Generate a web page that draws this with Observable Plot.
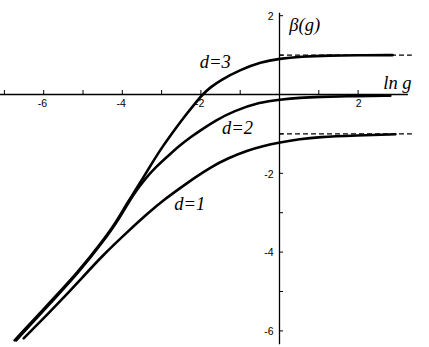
<!DOCTYPE html>
<html>
<head>
<meta charset="utf-8">
<script src="https://cdn.jsdelivr.net/npm/d3@7"></script>
<script src="https://cdn.jsdelivr.net/npm/@observablehq/plot@0.6"></script>
<style>
  html, body { margin: 0; padding: 0; background: #fff; }
  #chart { width: 429px; height: 347px; }
</style>
</head>
<body>
<div id="chart"></div>
<script>
// ---- data ----
const xTicks = [-7, -6, -5, -4, -3, -2, -1, 1, 2];
const xTickLabels = [-6, -4, -2, 2];
const yTicks = [2, 1, -1, -2, -3, -4, -5, -6];
const yTickLabels = [2, -2, -4, -6];

const d1X = [-6.51, -5.57, -5.14, -4.48, -3.84, -3.31, -2.95, -2.52, -2.14, -1.76, -1.32, -0.81, -0.43, 0, 0.53, 0.97, 1.98, 2.95];
const d1Y = [-6.19, -5.24, -4.78, -4.06, -3.46, -2.98, -2.68, -2.37, -2.10, -1.85, -1.62, -1.42, -1.31, -1.22, -1.13, -1.08, -1.04, -1.01];

const d2X = [-6.70, -5.77, -5.13, -4.47, -4.11, -3.83, -3.65, -3.40, -3.16, -2.77, -2.52, -2.26, -2.01, -1.63, -1.17, -0.48, 0, 0.53, 0.97, 1.98, 2.82];
const d2Y = [-6.24, -5.23, -4.54, -3.71, -3.20, -2.72, -2.44, -2.12, -1.85, -1.50, -1.28, -1.08, -0.91, -0.66, -0.42, -0.19, -0.13, -0.08, -0.06, -0.04, -0.03];

const d3X = [-6.74, -5.80, -5.16, -4.49, -4.13, -3.85, -3.67, -3.28, -3.03, -2.77, -2.39, -2.15, -1.96, -1.75, -1.50, -0.99, -0.48, 0, 0.53, 1.30, 1.98, 2.88];
const d3Y = [-6.24, -5.23, -4.55, -3.71, -3.20, -2.71, -2.44, -1.80, -1.40, -1.03, -0.52, -0.23, 0, 0.19, 0.365, 0.63, 0.82, 0.91, 0.96, 0.99, 0.995, 1.0];

const asymptotes = [1, -1];
const asymptoteExtent = [0, 3.38];
const xAxisExtent = [-7.1, 3.28];
const yAxisExtent = [-6.35, 2.06];

const curveLabels = ["d=3", "d=2", "d=1"];
const curveLabelX = [-2.03, -1.46, -2.68];
const curveLabelY = [0.66, -0.99, -2.92];

const axisTitles = ["β(g)", "ln g"];
const axisTitleX = [0.25, 3.36];
const axisTitleY = [1.6, 0.15];
const axisTitleAnchor = ["start", "end"];

// ---- build tables ----
const series = [
  ...d1X.map((x, i) => ({d: 1, x, y: d1Y[i]})),
  ...d2X.map((x, i) => ({d: 2, x, y: d2Y[i]})),
  ...d3X.map((x, i) => ({d: 3, x, y: d3Y[i]}))
];
const curveLabelData = curveLabels.map((t, i) => ({t, x: curveLabelX[i], y: curveLabelY[i]}));
const titleData = axisTitles.map((t, i) => ({t, x: axisTitleX[i], y: axisTitleY[i], a: axisTitleAnchor[i]}));

const tickFont = "Liberation Sans, Arial, sans-serif";
const italicFont = "Liberation Serif, Times New Roman, serif";

const chart = Plot.plot({
  width: 429,
  height: 347,
  marginTop: 0, marginRight: 0, marginBottom: 0, marginLeft: 0,
  style: {background: "#fff", overflow: "visible"},
  x: {domain: [-279 / 39.3, 150 / 39.3], axis: null},
  y: {domain: [-253 / 39.4, 94 / 39.4], axis: null},
  marks: [
    // axis lines
    Plot.ruleY([0], {x1: xAxisExtent[0], x2: xAxisExtent[1], stroke: "#000", strokeWidth: 1.3}),
    Plot.ruleX([0], {y1: yAxisExtent[0], y2: yAxisExtent[1], stroke: "#000", strokeWidth: 1.3}),
    // ticks
    Plot.ruleX(xTicks, {x: d => d, y1: 0, y2: 0, insetBottom: 4, stroke: "#000", strokeWidth: 1}),
    Plot.ruleY(yTicks, {y: d => d, x1: 0, x2: 0, insetRight: -4, stroke: "#000", strokeWidth: 1}),
    // tick labels
    Plot.text(xTickLabels, {x: d => d, y: 0, text: d => String(d), textAnchor: "end", dx: 3.5, dy: 9, fontSize: 10.5, fontFamily: tickFont, fill: "#000"}),
    Plot.text(yTickLabels, {x: 0, y: d => d, text: d => String(d), textAnchor: "end", dx: -6, dy: 1, fontSize: 10.5, fontFamily: tickFont, fill: "#000"}),
    // dashed asymptotes
    Plot.ruleY(asymptotes, {y: d => d, x1: asymptoteExtent[0], x2: asymptoteExtent[1], stroke: "#000", strokeWidth: 1.1, strokeDasharray: "5,3"}),
    // curves
    Plot.line(series, {x: "x", y: "y", z: "d", curve: "basis", stroke: "#000", strokeWidth: 2.6}),
    // labels
    Plot.text(curveLabelData, {x: "x", y: "y", text: "t", textAnchor: "start", lineAnchor: "bottom", fontSize: 18.5, fontStyle: "italic", fontFamily: italicFont, fill: "#000"}),
    Plot.text(titleData, {x: "x", y: "y", text: "t", textAnchor: "start", lineAnchor: "bottom", fontSize: 18.5, fontStyle: "italic", fontFamily: italicFont, fill: "#000", filter: d => d.a === "start"}),
    Plot.text(titleData, {x: "x", y: "y", text: "t", textAnchor: "end", lineAnchor: "bottom", fontSize: 18.5, fontStyle: "italic", fontFamily: italicFont, fill: "#000", filter: d => d.a === "end"})
  ]
});
document.getElementById("chart").appendChild(chart);
</script>
</body>
</html>
